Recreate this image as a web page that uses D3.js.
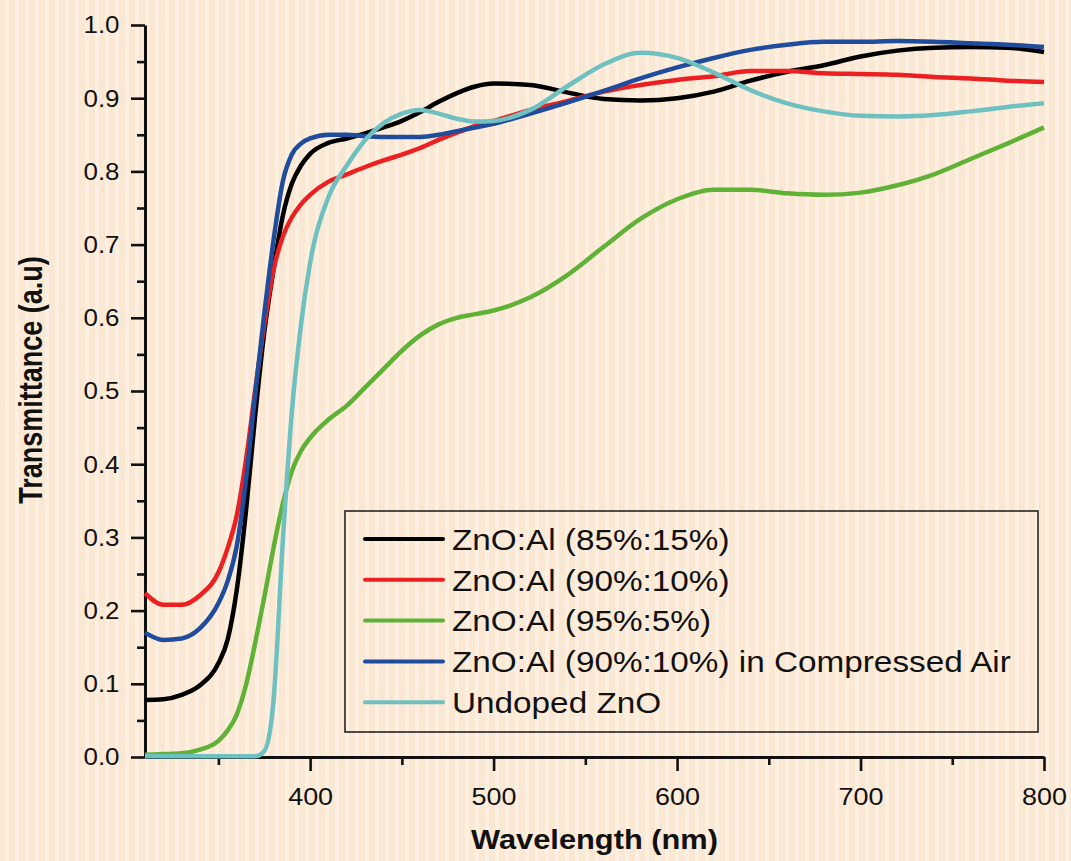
<!DOCTYPE html>
<html>
<head>
<meta charset="utf-8">
<script src="https://cdn.jsdelivr.net/npm/d3@7"></script>
<style>
  body { margin: 0; background: #fbe9d4; }
  svg { display: block; font-family: "Liberation Sans", Arial, sans-serif; }
</style>
</head>
<body>
<svg width="1071" height="861"></svg>
<script>
// wavelength grid (nm)
var wavelength = [310, 320, 330, 340, 350, 355, 360, 365, 370, 375,
                  380, 385, 390, 395, 400, 410, 420, 430, 440, 450,
                  460, 470, 480, 490, 500, 520, 540, 560, 580, 600,
                  620, 640, 660, 680, 700, 720, 740, 760, 780, 800];

var zno85 = [0.078, 0.079, 0.085, 0.098, 0.128, 0.160, 0.228, 0.335, 0.465, 0.580,
             0.665, 0.738, 0.783, 0.808, 0.824, 0.839, 0.845, 0.852, 0.860, 0.869,
             0.881, 0.895, 0.907, 0.916, 0.920, 0.918, 0.908, 0.899, 0.897, 0.900,
             0.909, 0.924, 0.936, 0.945, 0.957, 0.965, 0.969, 0.970, 0.969, 0.963];

var zno90 = [0.224, 0.208, 0.208, 0.221, 0.252, 0.285, 0.330, 0.405, 0.500, 0.590,
             0.665, 0.710, 0.737, 0.755, 0.768, 0.786, 0.796, 0.806, 0.815, 0.823,
             0.832, 0.843, 0.853, 0.862, 0.869, 0.884, 0.896, 0.909, 0.918, 0.925,
             0.930, 0.937, 0.937, 0.934, 0.933, 0.932, 0.929, 0.927, 0.924, 0.922];

var zno95 = [0.003, 0.004, 0.005, 0.010, 0.022, 0.036, 0.058, 0.098, 0.155, 0.218,
             0.285, 0.345, 0.390, 0.418, 0.436, 0.461, 0.480, 0.505, 0.530, 0.555,
             0.576, 0.591, 0.600, 0.605, 0.610, 0.628, 0.658, 0.697, 0.735, 0.762,
             0.775, 0.775, 0.770, 0.768, 0.771, 0.781, 0.796, 0.817, 0.838, 0.860];

var zno90air = [0.170, 0.160, 0.162, 0.176, 0.210, 0.240, 0.288, 0.378, 0.495, 0.605,
                0.705, 0.785, 0.823, 0.838, 0.845, 0.850, 0.850, 0.848, 0.847, 0.847,
                0.847, 0.850, 0.855, 0.860, 0.865, 0.879, 0.894, 0.910, 0.927, 0.942,
                0.955, 0.966, 0.973, 0.977, 0.977, 0.978, 0.977, 0.975, 0.973, 0.970];

var undoped = [0.001, 0.001, 0.001, 0.001, 0.001, 0.001, 0.001, 0.001, 0.001, 0.008,
               0.075, 0.290, 0.470, 0.590, 0.675, 0.765, 0.808, 0.843, 0.866, 0.879,
               0.884, 0.879, 0.872, 0.868, 0.869, 0.884, 0.916, 0.946, 0.962, 0.955,
               0.935, 0.911, 0.893, 0.882, 0.876, 0.875, 0.877, 0.882, 0.888, 0.893];

var seriesNames = ["ZnO:Al (85%:15%)", "ZnO:Al (90%:10%)", "ZnO:Al (95%:5%)",
                   "ZnO:Al (90%:10%) in Compressed Air", "Undoped ZnO"];
var seriesColors = ["#000000", "#ec2020", "#5fb236", "#1f4c9c", "#6fc0c0"];

var xTicks = [400, 500, 600, 700, 800];
var xMinor = [350, 450, 550, 650, 750];
var yTicks = [0.0, 0.1, 0.2, 0.3, 0.4, 0.5, 0.6, 0.7, 0.8, 0.9, 1.0];
var yMinor = [0.05, 0.15, 0.25, 0.35, 0.45, 0.55, 0.65, 0.75, 0.85, 0.95];


var svg = d3.select("svg"),
    margin = {top: 25, right: 27, bottom: 104, left: 145},
    width = svg.attr("width") - margin.left - margin.right,
    height = svg.attr("height") - margin.top - margin.bottom;

// striped paper background
var defs = svg.append("defs");
var pat = defs.append("pattern")
    .attr("id", "stripes")
    .attr("width", 10).attr("height", 10)
    .attr("patternUnits", "userSpaceOnUse");
pat.append("rect").attr("width", 10).attr("height", 10).attr("fill", "#fbe8d2");
pat.append("rect").attr("x", 5).attr("width", 4).attr("height", 10).attr("fill", "#fdf0e2");

svg.append("rect")
    .attr("width", 1071).attr("height", 861)
    .attr("fill", "url(#stripes)");

var g = svg.append("g")
    .attr("transform", "translate(" + margin.left + "," + margin.top + ")");

var x = d3.scaleLinear().domain([310, 800]).range([0, width]);
var y = d3.scaleLinear().domain([0, 1]).range([height, 0]);

var series = [zno85, zno90, zno95, zno90air, undoped].map(function(vals, i) {
    return {
        name: seriesNames[i],
        color: seriesColors[i],
        values: vals.map(function(v, j) { return {w: wavelength[j], t: v}; })
    };
});

var line = d3.line()
    .curve(d3.curveMonotoneX)
    .x(function(d) { return x(d.w); })
    .y(function(d) { return y(d.t); });

// minor ticks
g.append("g")
    .attr("class", "minor")
    .attr("transform", "translate(0," + height + ")")
    .call(d3.axisBottom(x).tickValues(xMinor).tickSize(8).tickFormat(""));
g.append("g")
    .attr("class", "minor")
    .call(d3.axisLeft(y).tickValues(yMinor).tickSize(8).tickFormat(""));
g.selectAll(".minor .domain").remove();

// main axes
var xAxis = g.append("g")
    .attr("transform", "translate(0," + height + ")")
    .call(d3.axisBottom(x).tickValues(xTicks).tickSize(14).tickSizeOuter(0).tickPadding(12));

var yAxis = g.append("g")
    .call(d3.axisLeft(y).tickValues(yTicks).tickSize(14).tickSizeOuter(0).tickPadding(10)
          .tickFormat(d3.format(".1f")));

g.selectAll(".domain").attr("stroke-width", 3).attr("stroke", "#111");
g.selectAll(".tick line").attr("stroke-width", 2.6).attr("stroke", "#111");
g.selectAll(".tick text")
    .attr("font-size", 24.5)
    .attr("fill", "#111")
    .attr("font-family", "'Liberation Sans', Arial, sans-serif");
xAxis.selectAll(".tick text").attr("transform", "scale(1.1,1)").attr("dy", "0.9em");
yAxis.selectAll(".tick text").attr("transform", "scale(1.06,1)");

// curves
g.selectAll(".curve")
    .data(series)
    .enter().append("path")
    .attr("class", "curve")
    .attr("fill", "none")
    .attr("stroke", function(d) { return d.color; })
    .attr("stroke-width", 4.5)
    .attr("stroke-linejoin", "round")
    .attr("d", function(d) { return line(d.values); });

// legend
var legend = svg.append("g").attr("transform", "translate(345,511)");
legend.append("rect")
    .attr("width", 693).attr("height", 221)
    .attr("fill", "none")
    .attr("stroke", "#222")
    .attr("stroke-width", 1.6);

var item = legend.selectAll(".item")
    .data(series)
    .enter().append("g")
    .attr("class", "item")
    .attr("transform", function(d, i) { return "translate(0," + (28 + i * 40.8) + ")"; });

item.append("line")
    .attr("x1", 20).attr("x2", 98)
    .attr("stroke", function(d) { return d.color; })
    .attr("stroke-width", 4)
    .attr("stroke-linecap", "round");

item.append("text")
    .attr("transform", "translate(107,0) scale(1.11,1)")
    .attr("dy", "0.36em")
    .attr("font-size", 30)
    .attr("fill", "#111")
    .text(function(d) { return d.name; });

// axis titles
svg.append("text")
    .attr("transform", "translate(" + (margin.left + width / 2) + ",849) scale(1.1,1)")
    .attr("text-anchor", "middle")
    .attr("font-size", 28)
    .attr("font-weight", "bold")
    .attr("fill", "#111")
    .text("Wavelength (nm)");

svg.append("text")
    .attr("transform", "translate(42,380) scale(1.25,1) rotate(-90)")
    .attr("text-anchor", "middle")
    .attr("font-size", 27)
    .attr("font-weight", "bold")
    .attr("fill", "#111")
    .text("Transmittance (a.u)");
</script>
</body>
</html>
